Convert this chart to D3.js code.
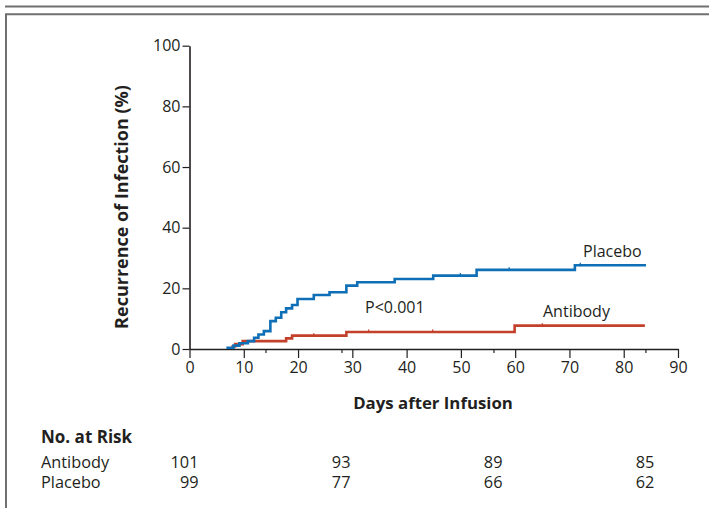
<html>
<head>
  <script src="https://d3js.org/d3.v7.min.js"></script>
  <style>
    body { margin: 0; background: #fff; }
    text { font-family: "Open Sans", sans-serif; fill: #231f20; }
  </style>
</head>
<body>
<script>
    // step points (day, cumulative % recurrence)
    var placeboDays = [6.8, 8.1, 9.2, 10.75, 11.9, 12.7, 13.7, 14.9, 15.9, 16.9, 17.8, 18.9, 19.9, 22.9, 25.8, 28.9, 30.9, 37.8, 44.9, 52.9, 71.0, 84.1];
    var placeboPct  = [0.4, 1.1, 1.9, 2.6, 3.7, 4.8, 5.9, 9.2, 10.3, 12.1, 13.4, 14.5, 16.5, 17.8, 18.7, 20.9, 22.0, 23.1, 24.2, 26.1, 27.6, 27.6];
    var antibodyDays = [7.7, 8.4, 9.8, 17.8, 18.9, 28.9, 59.9, 83.9];
    var antibodyPct  = [0.8, 1.6, 2.6, 3.5, 4.4, 5.6, 7.7, 7.7];

    // censoring marks
    var placeboCensor = [49.9, 58.9, 72.0];
    var antibodyCensor = [22.9, 33.0, 44.8, 65.0];

    var xTicks = [0, 10, 20, 30, 40, 50, 60, 70, 80, 90];
    var xMinorTicks = [14, 28, 56, 84];
    var yTicks = [0, 20, 40, 60, 80, 100];

    var riskDays = [0, 28, 56, 84];
    var riskGroups = ["Antibody", "Placebo"];
    var riskAntibody = [101, 93, 89, 85];
    var riskPlacebo = [99, 77, 66, 62];

    var width = 709, height = 508;
    var blue = "#0f6fb6", red = "#c3402b", ink = "#231f20";

    var svg = d3.select("body").append("svg")
        .attr("width", width)
        .attr("height", height);

    // frame rules
    svg.append("line").attr("x1", 5).attr("x2", width).attr("y1", 6.5).attr("y2", 6.5)
        .attr("stroke", "#707070").attr("stroke-width", 2);
    svg.append("path").attr("d", "M" + width + ",14.2H6V" + height)
        .attr("fill", "none").attr("stroke", "#707070").attr("stroke-width", 2);

    var x = d3.scaleLinear().domain([0, 90]).range([189.5, 678]);
    var y = d3.scaleLinear().domain([0, 100]).range([349, 45.7]);

    // y axis
    var yAxis = svg.append("g")
        .attr("transform", "translate(" + x(0) + ",0)")
        .call(d3.axisLeft(y).tickValues(yTicks).tickSize(7).tickPadding(2).tickSizeOuter(0));
    yAxis.select(".domain").attr("stroke", ink).attr("stroke-width", 1.6);
    yAxis.selectAll(".tick line").attr("stroke", ink).attr("stroke-width", 1.2);
    yAxis.selectAll(".tick text").attr("font-size", 16).attr("font-family", "Open Sans").attr("fill", ink);

    // x axis
    var xAxis = svg.append("g")
        .attr("transform", "translate(0," + y(0) + ")")
        .call(d3.axisBottom(x).tickValues(xTicks).tickSize(9).tickPadding(4).tickSizeOuter(0));
    xAxis.select(".domain").attr("stroke", ink).attr("stroke-width", 1.6);
    xAxis.selectAll(".tick line").attr("stroke", ink).attr("stroke-width", 1.2);
    xAxis.selectAll(".tick text").attr("font-size", 16).attr("font-family", "Open Sans").attr("fill", ink);

    svg.append("g")
        .attr("transform", "translate(0," + y(0) + ")")
        .call(d3.axisBottom(x).tickValues(xMinorTicks).tickSize(4).tickFormat(""))
        .call(g => g.select(".domain").remove())
        .selectAll(".tick line").attr("stroke", ink).attr("stroke-width", 1.2);

    // axis titles
    svg.append("text")
        .attr("transform", "translate(128,207) rotate(-90)")
        .attr("text-anchor", "middle")
        .attr("font-size", 18)
        .attr("font-weight", "bold")
        .text("Recurrence of Infection (%)");

    svg.append("text")
        .attr("x", 433).attr("y", 409)
        .attr("text-anchor", "middle")
        .attr("font-size", 16.8)
        .attr("font-weight", "bold")
        .text("Days after Infusion");

    // curves
    var line = d3.line()
        .x(function (d) { return x(d[0]); })
        .y(function (d) { return y(d[1]); })
        .curve(d3.curveStepAfter);

    function drawCurve(days, pct, color) {
        var pts = days.map(function (d, i) { return [d, pct[i]]; });
        svg.append("path")
            .datum(pts)
            .attr("fill", "none")
            .attr("stroke", color)
            .attr("stroke-width", 2.6)
            .attr("d", line);
    }

    function valueAt(days, pct, t) {
        var v = pct[0];
        days.forEach(function (d, i) { if (d <= t) v = pct[i]; });
        return v;
    }

    function drawCensor(marks, days, pct, color) {
        svg.selectAll(null)
            .data(marks)
            .enter()
            .append("line")
            .attr("x1", function (d) { return x(d); })
            .attr("x2", function (d) { return x(d); })
            .attr("y1", function (d) { return y(valueAt(days, pct, d)) - 2.5; })
            .attr("y2", function (d) { return y(valueAt(days, pct, d)) + 1; })
            .attr("stroke", color)
            .attr("stroke-width", 1.3);
    }

    drawCurve(antibodyDays, antibodyPct, red);
    drawCurve(placeboDays, placeboPct, blue);
    drawCensor(antibodyCensor, antibodyDays, antibodyPct, red);
    drawCensor(placeboCensor, placeboDays, placeboPct, blue);

    // labels in plot
    svg.append("text").attr("x", 583).attr("y", 257).attr("font-size", 16).text("Placebo");
    svg.append("text").attr("x", 543).attr("y", 317).attr("font-size", 16).text("Antibody");
    svg.append("text").attr("x", 365).attr("y", 313).attr("font-size", 16).text("P<0.001");

    // number at risk table
    svg.append("text").attr("x", 41).attr("y", 443)
        .attr("font-size", 17).attr("font-weight", "bold").text("No. at Risk");

    var rows = [riskAntibody, riskPlacebo];
    rows.forEach(function (vals, r) {
        var yy = 468 + r * 20;
        svg.append("text").attr("x", 41).attr("y", yy).attr("font-size", 16.3).text(riskGroups[r]);
        svg.selectAll(null)
            .data(vals)
            .enter()
            .append("text")
            .attr("x", function (d, i) { return x(riskDays[i]) + 9; })
            .attr("y", yy)
            .attr("text-anchor", "end")
            .attr("font-size", 16.3)
            .text(function (d) { return d; });
    });
</script>
</body>
</html>
